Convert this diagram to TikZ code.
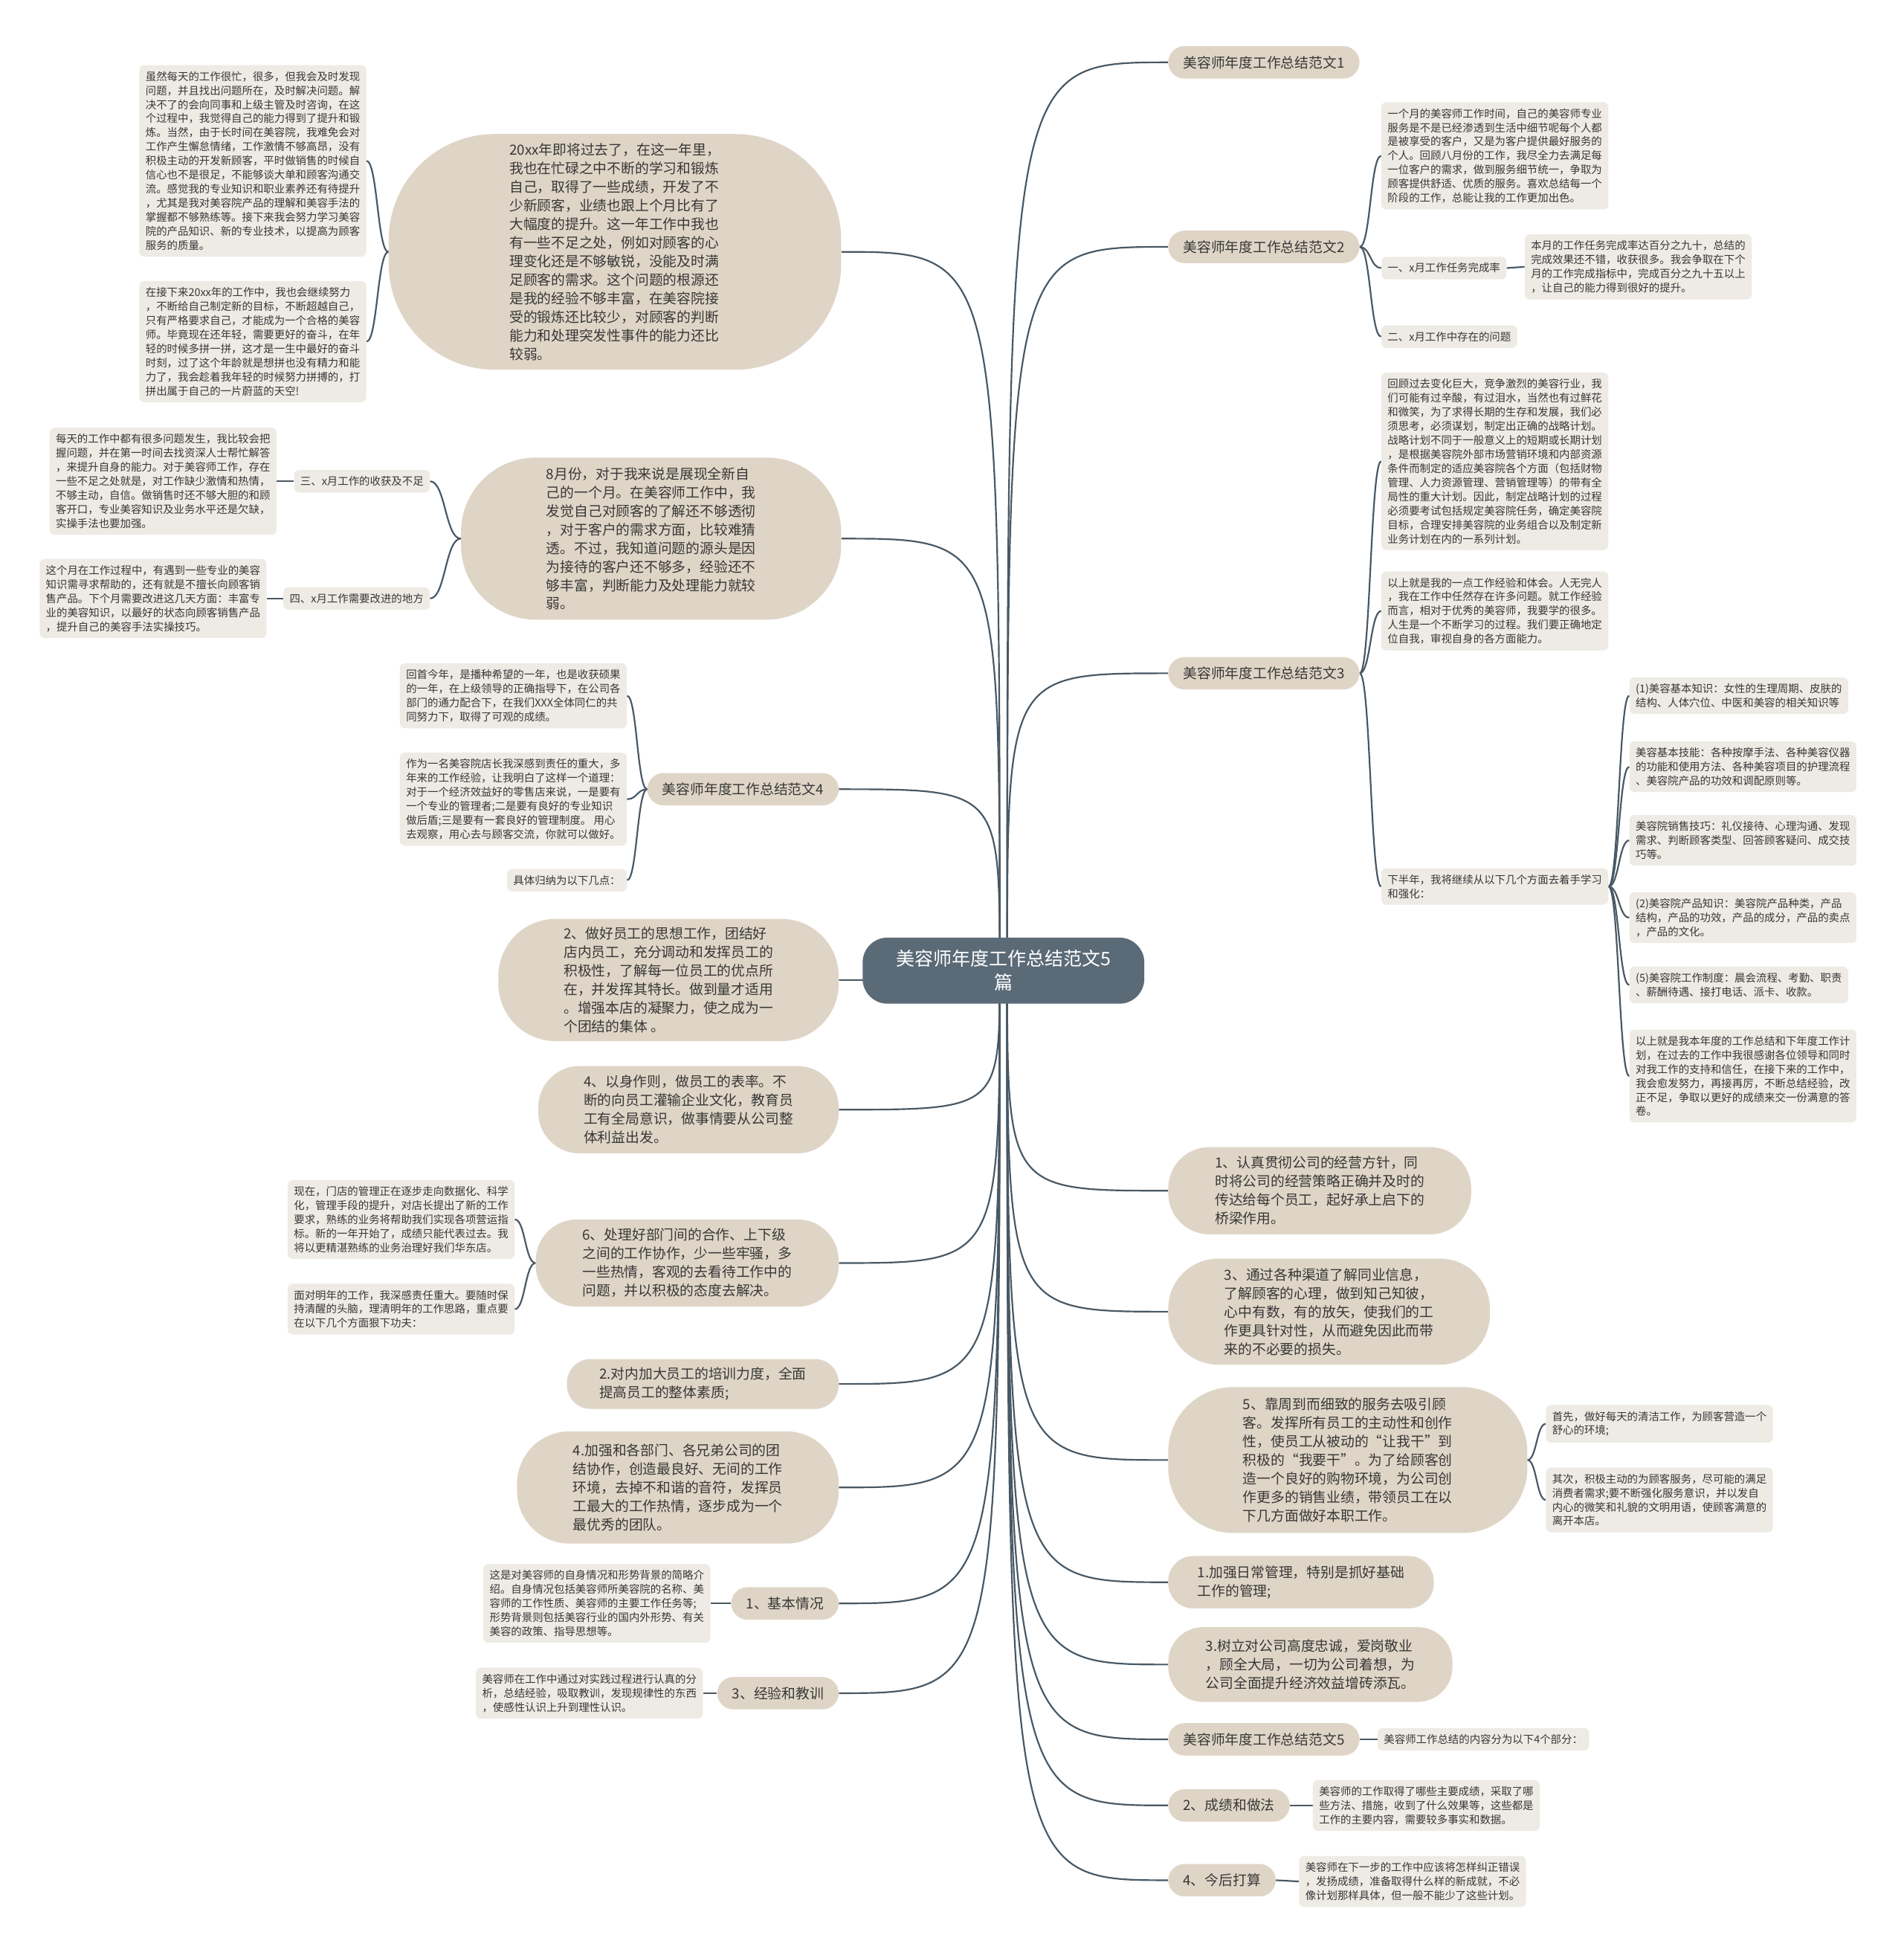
\documentclass[tikz,border=0pt]{standalone}
\usepackage{fontspec}
\setmainfont{Noto Sans CJK SC}
\usetikzlibrary{calc}
\definecolor{rootfill}{RGB}{90,106,119}
\definecolor{lineC}{RGB}{72,88,100}
\definecolor{lvfill}{RGB}{223,213,198}
\definecolor{leaffill}{RGB}{238,235,229}
\definecolor{txt}{RGB}{55,55,55}
\pgfdeclarelayer{bg}
\pgfsetlayers{bg,main}
\begin{document}
\begin{tikzpicture}[x=1pt,y=-1pt,
  rootnode/.style={fill=rootfill, text=white, rounded corners=20pt, minimum width=226pt, minimum height=53pt, align=center, font=\fontsize{14.9}{19}\selectfont, inner sep=0pt},
  pill/.style={fill=lvfill, text=txt, rounded corners=13pt, minimum height=26pt, inner xsep=12pt, inner ysep=0pt, font=\fontsize{11.2}{14.9}\selectfont},
  bub/.style={fill=lvfill, text=txt, align=left, inner sep=0pt, font=\fontsize{11.2}{14.9}\selectfont},
  leaf/.style={fill=leaffill, text=txt, align=left, rounded corners=4pt, inner xsep=5pt, inner ysep=5pt, font=\fontsize{8.6}{11.3}\selectfont},
  conn/.style={draw=lineC, line width=1.3pt},
  brace/.style={to path={.. controls ($(\tikztostart)!0.5!(\tikztostart -| \tikztotarget)$) and ($(\tikztotarget)!0.5!(\tikztotarget -| \tikztostart)$) .. (\tikztotarget)}},
  rootc/.style={to path={.. controls (\tikztostart |- \tikztotarget) and (\tikztostart |- \tikztotarget) .. (\tikztotarget)}}
]
\useasboundingbox (0,0) rectangle (1527,1568);

% root
\node[rootnode] (root) at (805,778.5) {美容师年度工作总结范文5\\篇};
\coordinate (rootR) at (808,778);
\coordinate (rootL) at (802,778);

% ---------- right side ----------
\node[pill, anchor=west] (R1) at (937,50) {美容师年度工作总结范文1};
\node[pill, anchor=west] (R2) at (937,198) {美容师年度工作总结范文2};
\node[leaf, anchor=west] (R2a) at (1108,125) {一个月的美容师工作时间，自己的美容师专业\\服务是不是已经渗透到生活中细节呢每个人都\\是被享受的客户，又是为客户提供最好服务的\\个人。回顾八月份的工作，我尽全力去满足每\\一位客户的需求，做到服务细节统一，争取为\\顾客提供舒适、优质的服务。喜欢总结每一个\\阶段的工作，总能让我的工作更加出色。};
\node[leaf, anchor=west] (R2b) at (1108,215) {一、x月工作任务完成率};
\node[leaf, anchor=west] (R2b1) at (1223,214) {本月的工作任务完成率达百分之九十，总结的\\完成效果还不错，收获很多。我会争取在下个\\月的工作完成指标中，完成百分之九十五以上\\，让自己的能力得到很好的提升。};
\node[leaf, anchor=west] (R2c) at (1108,270) {二、x月工作中存在的问题};

\node[pill, anchor=west] (R3) at (937,540) {美容师年度工作总结范文3};
\node[leaf, anchor=west] (R3a) at (1108,370) {回顾过去变化巨大，竞争激烈的美容行业，我\\们可能有过辛酸，有过泪水，当然也有过鲜花\\和微笑，为了求得长期的生存和发展，我们必\\须思考，必须谋划，制定出正确的战略计划。\\战略计划不同于一般意义上的短期或长期计划\\，是根据美容院外部市场营销环境和内部资源\\条件而制定的适应美容院各个方面（包括财物\\管理、人力资源管理、营销管理等）的带有全\\局性的重大计划。因此，制定战略计划的过程\\必须要考试包括规定美容院任务，确定美容院\\目标，合理安排美容院的业务组合以及制定新\\业务计划在内的一系列计划。};
\node[leaf, anchor=west] (R3b) at (1108,490) {以上就是我的一点工作经验和体会。人无完人\\，我在工作中任然存在许多问题。就工作经验\\而言，相对于优秀的美容师，我要学的很多。\\人生是一个不断学习的过程。我们要正确地定\\位自我，审视自身的各方面能力。};
\node[leaf, anchor=west] (R3c) at (1108,711) {下半年，我将继续从以下几个方面去着手学习\\和强化：};
\node[leaf, anchor=west] (C1) at (1307,558) {(1)美容基本知识：女性的生理周期、皮肤的\\结构、人体穴位、中医和美容的相关知识等};
\node[leaf, anchor=west] (C2) at (1307,615) {美容基本技能：各种按摩手法、各种美容仪器\\的功能和使用方法、各种美容项目的护理流程\\、美容院产品的功效和调配原则等。};
\node[leaf, anchor=west] (C3) at (1307,674) {美容院销售技巧：礼仪接待、心理沟通、发现\\需求、判断顾客类型、回答顾客疑问、成交技\\巧等。};
\node[leaf, anchor=west] (C4) at (1307,736) {(2)美容院产品知识：美容院产品种类，产品\\结构，产品的功效，产品的成分，产品的卖点\\，产品的文化。};
\node[leaf, anchor=west] (C5) at (1307,790) {(5)美容院工作制度：晨会流程、考勤、职责\\、薪酬待遇、接打电话、派卡、收款。};
\node[leaf, anchor=west] (C6) at (1307,863) {以上就是我本年度的工作总结和下年度工作计\\划，在过去的工作中我很感谢各位领导和同时\\对我工作的支持和信任，在接下来的工作中，\\我会愈发努力，再接再厉，不断总结经验，改\\正不足，争取以更好的成绩来交一份满意的答\\卷。};

\node[bub, anchor=west, minimum width=243pt, minimum height=70pt, rounded corners=33pt] (R4) at (937,955) {1、认真贯彻公司的经营方针，同\\时将公司的经营策略正确并及时的\\传达给每个员工，起好承上启下的\\桥梁作用。};
\node[bub, anchor=west, minimum width=258pt, minimum height=85pt, rounded corners=40pt] (R5) at (937,1052) {3、通过各种渠道了解同业信息，\\了解顾客的心理，做到知己知彼，\\心中有数，有的放矢，使我们的工\\作更具针对性，从而避免因此而带\\来的不必要的损失。};
\node[bub, anchor=west, minimum width=288pt, minimum height=117pt, rounded corners=52pt] (R6) at (937,1171) {5、靠周到而细致的服务去吸引顾\\客。发挥所有员工的主动性和创作\\性，使员工从被动的“让我干”到\\积极的“我要干”。为了给顾客创\\造一个良好的购物环境，为公司创\\作更多的销售业绩，带领员工在以\\下几方面做好本职工作。};
\node[leaf, anchor=west] (R6a) at (1240,1142) {首先，做好每天的清洁工作，为顾客营造一个\\舒心的环境;};
\node[leaf, anchor=west] (R6b) at (1240,1203) {其次，积极主动的为顾客服务，尽可能的满足\\消费者需求;要不断强化服务意识，并以发自\\内心的微笑和礼貌的文明用语，使顾客满意的\\离开本店。};
\node[bub, anchor=west, minimum width=213pt, minimum height=42pt, rounded corners=20pt] (R7) at (937,1269) {1.加强日常管理，特别是抓好基础\\工作的管理;};
\node[bub, anchor=west, minimum width=228pt, minimum height=60pt, rounded corners=28pt] (R8) at (937,1335) {3.树立对公司高度忠诚，爱岗敬业\\，顾全大局，一切为公司着想，为\\公司全面提升经济效益增砖添瓦。};
\node[pill, anchor=west] (R9) at (937,1395) {美容师年度工作总结范文5};
\node[leaf, anchor=west] (R9a) at (1105,1395) {美容师工作总结的内容分为以下4个部分：};
\node[pill, anchor=west] (R10) at (937,1448) {2、成绩和做法};
\node[leaf, anchor=west] (R10a) at (1053,1448) {美容师的工作取得了哪些主要成绩，采取了哪\\些方法、措施，收到了什么效果等，这些都是\\工作的主要内容，需要较多事实和数据。};
\node[pill, anchor=west] (R11) at (937,1508) {4、今后打算};
\node[leaf, anchor=west] (R11a) at (1042,1509) {美容师在下一步的工作中应该将怎样纠正错误\\，发扬成绩，准备取得什么样的新成就，不必\\像计划那样具体，但一般不能少了这些计划。};

% ---------- left side ----------
\node[bub, anchor=east, minimum width=363pt, minimum height=189pt, rounded corners=85pt] (L1) at (675,202) {20xx年即将过去了，在这一年里，\\我也在忙碌之中不断的学习和锻炼\\自己，取得了一些成绩，开发了不\\少新顾客，业绩也跟上个月比有了\\大幅度的提升。这一年工作中我也\\有一些不足之处，例如对顾客的心\\理变化还是不够敏锐，没能及时满\\足顾客的需求。这个问题的根源还\\是我的经验不够丰富，在美容院接\\受的锻炼还比较少，对顾客的判断\\能力和处理突发性事件的能力还比\\较弱。};
\node[leaf, anchor=east] (L1a) at (294,129) {虽然每天的工作很忙，很多，但我会及时发现\\问题，并且找出问题所在，及时解决问题。解\\决不了的会向同事和上级主管及时咨询，在这\\个过程中，我觉得自己的能力得到了提升和锻\\炼。当然，由于长时间在美容院，我难免会对\\工作产生懈怠情绪，工作激情不够高昂，没有\\积极主动的开发新顾客，平时做销售的时候自\\信心也不是很足，不能够谈大单和顾客沟通交\\流。感觉我的专业知识和职业素养还有待提升\\，尤其是我对美容院产品的理解和美容手法的\\掌握都不够熟练等。接下来我会努力学习美容\\院的产品知识、新的专业技术，以提高为顾客\\服务的质量。};
\node[leaf, anchor=east] (L1b) at (294,274) {在接下来20xx年的工作中，我也会继续努力\\，不断给自己制定新的目标，不断超越自己，\\只有严格要求自己，才能成为一个合格的美容\\师。毕竟现在还年轻，需要更好的奋斗，在年\\轻的时候多拼一拼，这才是一生中最好的奋斗\\时刻，过了这个年龄就是想拼也没有精力和能\\力了，我会趁着我年轻的时候努力拼搏的，打\\拼出属于自己的一片蔚蓝的天空!};

\node[bub, anchor=east, minimum width=305pt, minimum height=130pt, rounded corners=60pt] (L2) at (675,432) {8月份，对于我来说是展现全新自\\己的一个月。在美容师工作中，我\\发觉自己对顾客的了解还不够透彻\\，对于客户的需求方面，比较难猜\\透。不过，我知道问题的源头是因\\为接待的客户还不够多，经验还不\\够丰富，判断能力及处理能力就较\\弱。};
\node[leaf, anchor=east] (L2a) at (345,386) {三、x月工作的收获及不足};
\node[leaf, anchor=east] (L2a1) at (222,386) {每天的工作中都有很多问题发生，我比较会把\\握问题，并在第一时间去找资深人士帮忙解答\\，来提升自身的能力。对于美容师工作，存在\\一些不足之处就是，对工作缺少激情和热情，\\不够主动，自信。做销售时还不够大胆的和顾\\客开口，专业美容知识及业务水平还是欠缺，\\实操手法也要加强。};
\node[leaf, anchor=east] (L2b) at (345,480) {四、x月工作需要改进的地方};
\node[leaf, anchor=east] (L2b1) at (214,480) {这个月在工作过程中，有遇到一些专业的美容\\知识需寻求帮助的，还有就是不擅长向顾客销\\售产品。下个月需要改进这几天方面：丰富专\\业的美容知识，以最好的状态向顾客销售产品\\，提升自己的美容手法实操技巧。};

\node[pill, anchor=east] (L3) at (673,633) {美容师年度工作总结范文4};
\node[leaf, anchor=east] (L3a) at (503,558) {回首今年，是播种希望的一年，也是收获硕果\\的一年，在上级领导的正确指导下，在公司各\\部门的通力配合下，在我们XXX全体同仁的共\\同努力下，取得了可观的成绩。};
\node[leaf, anchor=east] (L3b) at (503,641) {作为一名美容院店长我深感到责任的重大，多\\年来的工作经验，让我明白了这样一个道理：\\对于一个经济效益好的零售店来说，一是要有\\一个专业的管理者;二是要有良好的专业知识\\做后盾;三是要有一套良好的管理制度。 用心\\去观察，用心去与顾客交流，你就可以做好。};
\node[leaf, anchor=east] (L3c) at (503,706) {具体归纳为以下几点：};

\node[bub, anchor=east, minimum width=273pt, minimum height=98pt, rounded corners=46pt] (L4) at (673,786) {2、做好员工的思想工作，团结好\\店内员工，充分调动和发挥员工的\\积极性，了解每一位员工的优点所\\在，并发挥其特长。做到量才适用\\。增强本店的凝聚力，使之成为一\\个团结的集体 。};
\node[bub, anchor=east, minimum width=241pt, minimum height=70pt, rounded corners=33pt] (L5) at (673,890) {4、以身作则，做员工的表率。不\\断的向员工灌输企业文化，教育员\\工有全局意识，做事情要从公司整\\体利益出发。};
\node[bub, anchor=east, minimum width=243pt, minimum height=70pt, rounded corners=33pt] (L6) at (673,1013) {6、处理好部门间的合作、上下级\\之间的工作协作，少一些牢骚，多\\一些热情，客观的去看待工作中的\\问题，并以积极的态度去解决。};
\node[leaf, anchor=east] (L6a) at (413,978) {现在，门店的管理正在逐步走向数据化、科学\\化，管理手段的提升，对店长提出了新的工作\\要求，熟练的业务将帮助我们实现各项营运指\\标。新的一年开始了，成绩只能代表过去。我\\将以更精湛熟练的业务治理好我们华东店。};
\node[leaf, anchor=east] (L6b) at (413,1050) {面对明年的工作，我深感责任重大。要随时保\\持清醒的头脑，理清明年的工作思路，重点要\\在以下几个方面狠下功夫：};
\node[bub, anchor=east, minimum width=218pt, minimum height=40pt, rounded corners=19pt] (L7) at (673,1110) {2.对内加大员工的培训力度，全面\\提高员工的整体素质;};
\node[bub, anchor=east, minimum width=258pt, minimum height=90pt, rounded corners=42pt] (L8) at (673,1193) {4.加强和各部门、各兄弟公司的团\\结协作，创造最良好、无间的工作\\环境，去掉不和谐的音符，发挥员\\工最大的工作热情，逐步成为一个\\最优秀的团队。};
\node[pill, anchor=east] (L9) at (673,1286) {1、基本情况};
\node[leaf, anchor=east] (L9a) at (570,1286) {这是对美容师的自身情况和形势背景的简略介\\绍。自身情况包括美容师所美容院的名称、美\\容师的工作性质、美容师的主要工作任务等;\\形势背景则包括美容行业的国内外形势、有关\\美容的政策、指导思想等。};
\node[pill, anchor=east] (L10) at (673,1358) {3、经验和教训};
\node[leaf, anchor=east] (L10a) at (564,1358) {美容师在工作中通过对实践过程进行认真的分\\析，总结经验，吸取教训，发现规律性的东西\\，使感性认识上升到理性认识。};

% ---------- background and connectors ----------
\begin{pgfonlayer}{bg}
\fill[white] (0,0) rectangle (1527,1568);
\foreach \n in {R1,R2,R3,R4,R5,R6,R7,R8,R9,R10,R11}
  \draw[conn] (rootR) to[rootc] (\n.west);
\foreach \n in {L1,L2,L3,L4,L5,L6,L7,L8,L9,L10}
  \draw[conn] (rootL) to[rootc] (\n.east);
\foreach \n in {R2a,R2b,R2c}
  \draw[conn] (R2.east) to[brace] (\n.west);
\draw[conn] (R2b.east) to[brace] (R2b1.west);
\foreach \n in {R3a,R3b,R3c}
  \draw[conn] (R3.east) to[brace] (\n.west);
\foreach \n in {C1,C2,C3,C4,C5,C6}
  \draw[conn] (R3c.east) to[brace] (\n.west);
\foreach \n in {R6a,R6b}
  \draw[conn] (R6.east) to[brace] (\n.west);
\draw[conn] (R9.east) to[brace] (R9a.west);
\draw[conn] (R10.east) to[brace] (R10a.west);
\draw[conn] (R11.east) to[brace] (R11a.west);
\foreach \n in {L1a,L1b}
  \draw[conn] (L1.west) to[brace] (\n.east);
\foreach \n in {L2a,L2b}
  \draw[conn] (L2.west) to[brace] (\n.east);
\draw[conn] (L2a.west) to[brace] (L2a1.east);
\draw[conn] (L2b.west) to[brace] (L2b1.east);
\foreach \n in {L3a,L3b,L3c}
  \draw[conn] (L3.west) to[brace] (\n.east);
\foreach \n in {L6a,L6b}
  \draw[conn] (L6.west) to[brace] (\n.east);
\draw[conn] (L9.west) to[brace] (L9a.east);
\draw[conn] (L10.west) to[brace] (L10a.east);
\end{pgfonlayer}
\end{tikzpicture}
\end{document}
